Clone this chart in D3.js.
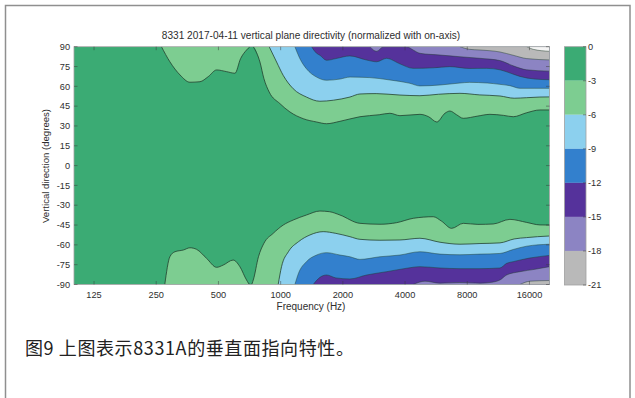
<!DOCTYPE html>
<html><head><meta charset="utf-8">
<script src="https://cdn.jsdelivr.net/npm/d3@7"></script>
<style>body{margin:0;background:#fff}</style>
</head><body><svg id="c" width="635" height="398"></svg>
<script>
// ---- data ----
const freqTicks = [125, 250, 500, 1000, 2000, 4000, 8000, 16000];
const angleTicks = [90, 75, 60, 45, 30, 15, 0, -15, -30, -45, -60, -75, -90];
const levels = [0, -3, -6, -9, -12, -15, -18, -21];
const bandColors = ["#3bab74", "#7dcd91", "#8cd0ee", "#3380cd", "#55329b", "#8c84c3", "#b9b9b9", "#f4f4f4"];

// level -3 boundary (upper / lower half)
const up3F = [265, 291, 326, 364, 407, 446, 490, 548, 601, 640, 684, 710, 722, 737, 794, 830, 880, 992, 1109, 1286, 1493, 1669, 1936, 2418, 3000, 3379, 3778, 4720, 5200, 5700, 6236, 6596, 7100, 7648, 9000, 10294, 12000, 13350, 15500, 17970, 20000];
const up3A = [90, 78.6, 68.6, 63.1, 63.5, 67.3, 72.4, 71.1, 69.9, 81, 87.5, 90, 90, 90, 78.4, 65.8, 55.7, 46.9, 40.6, 35.5, 33, 31.7, 33.5, 37, 38.5, 39.6, 37.8, 38.8, 37, 33, 39.6, 41.3, 38.5, 35.8, 37.5, 38.8, 38, 37, 40, 42.1, 42.1];
const lo3F = [275, 291, 308, 338, 364, 392, 438, 490, 527, 589, 635, 684, 710, 722, 737, 781, 830, 920, 1029, 1150, 1333, 1549, 1725, 1936, 2418, 3023, 3640, 4380, 5475, 6000, 6722, 7648, 9000, 10684, 12870, 15500, 17970, 20000];
const lo3A = [-90, -69, -65.2, -63.9, -62.2, -63.4, -70.2, -77, -75.3, -71.5, -76.5, -86.6, -90, -90, -86.6, -69, -58.8, -51.3, -45, -41.2, -37.4, -34.4, -34.9, -37.4, -43.7, -44.4, -43.2, -39.9, -38.7, -42, -47.5, -43.7, -44.5, -44.2, -40.7, -43, -44.9, -45];
// level -6
const up6F = [880, 956, 1029, 1150, 1333, 1549, 1800, 2164, 2418, 2900, 3778, 4720, 5800, 7372, 9200, 11510, 13500, 15500, 17970, 20000];
const up6A = [90, 78.4, 68.3, 58.2, 51.9, 48.7, 49.5, 51.9, 54.2, 54.5, 53.4, 52.9, 54, 54.7, 53.5, 52.7, 51, 51.4, 51.9, 52];
const lo6F = [973, 1010, 1090, 1220, 1386, 1607, 1850, 2164, 2418, 3023, 3778, 4720, 5900, 7372, 9215, 11510, 13500, 15500, 17500, 20000];
const lo6A = [-90, -76.5, -65.2, -57.6, -52.5, -50, -51.3, -53.8, -55.8, -56.5, -56.3, -55, -58, -59.5, -59, -58.5, -55.5, -54.5, -53.8, -53.3];
// level -9
const up9F = [1172, 1240, 1333, 1493, 1669, 1936, 2164, 2704, 3379, 4222, 4720, 5900, 7372, 8200, 10000, 11510, 12870, 14390, 17000, 20000];
const up9A = [90, 80.9, 73.3, 67, 64.6, 65.5, 67, 66.6, 64.8, 62.3, 60.3, 61, 62.5, 63, 62.5, 61.5, 60.5, 58.5, 58.5, 58.5];
const lo9F = [1172, 1220, 1333, 1493, 1669, 1936, 2164, 2418, 3023, 3778, 4720, 5900, 7372, 9215, 11510, 13350, 15500, 20000];
const lo9A = [-90, -81.5, -72.7, -67.7, -65.9, -67.7, -69, -71, -69, -67.7, -65.2, -67, -67.5, -67, -66.5, -63.5, -61, -59.5];
// level -12
const up12F = [1412, 1493, 1549, 1669, 1850, 2164, 2606, 2913, 3258, 3778, 4380, 5475, 6596, 8200, 9925, 11510, 12405, 14390, 17000, 20000];
const up12A = [90, 85, 83.5, 79.7, 81, 83, 79.9, 78.6, 81.2, 77, 73.6, 74, 74.9, 73.5, 73.6, 72.5, 71, 67.5, 65.5, 65];
const lo12F = [1438, 1549, 1669, 1850, 2164, 2606, 3258, 4070, 4720, 5900, 7372, 9215, 11510, 12405, 13350, 16000, 20000];
const lo12A = [-90, -84.6, -82.8, -85, -85.8, -82.8, -80.3, -77.7, -76.5, -77.5, -78, -78, -77.5, -74, -72.7, -70, -68];
// level -15
const up15F = [2704, 2913, 3150, 4070, 4380, 4720, 5900, 7372, 9215, 11510, 13350, 15500, 20000];
const up15A = [90, 86.5, 90, 90, 87.5, 85, 83.7, 82.4, 81.2, 79.5, 75.5, 72.5, 71.5];
const lo15F = [4380, 5000, 5900, 7372, 9215, 10294, 11510, 12405, 14390, 17000, 20000];
const lo15A = [-90, -87.5, -89, -88.5, -89, -88.5, -86.6, -82.8, -80.3, -78.5, -76.5];
// level -18
const up18F = [7372, 8200, 9215, 11510, 13350, 15500, 20000];
const up18A = [90, 88, 87.5, 86, 83.5, 81, 80];
const lo18F = [14390, 16090, 20000];
const lo18A = [-90, -87.5, -87];
// level -21
const up21F = [15500, 16690, 20000];
const up21A = [90, 88, 86.5];

const titleText = "8331 2017-04-11 vertical plane directivity (normalized with on-axis)";
const xLabel = "Frequency (Hz)";
const yLabel = "Vertical direction (degrees)";
const caption = "图9 上图表示8331A的垂直面指向特性。";

// ---- drawing ----
const svg = d3.select("#c");
const L = 74, R = 549.5, T = 46.7, B = 284.5;
const x = d3.scaleLog().domain([100, 20000]).range([L, R]);
const y = d3.scaleLinear().domain([-90, 90]).range([B, T]);

svg.append("rect").attr("x", 5.5).attr("y", 5.5).attr("width", 624.5).attr("height", 400)
  .attr("fill", "#fff").attr("stroke", "#8f8f8f").attr("stroke-width", 1.5);

svg.append("defs").append("clipPath").attr("id", "clip")
  .append("rect").attr("x", L).attr("y", T).attr("width", R - L).attr("height", B - T);

const g = svg.append("g").attr("clip-path", "url(#clip)");
g.append("rect").attr("x", L).attr("y", T).attr("width", R - L).attr("height", B - T).attr("fill", bandColors[0]);

const bounds = [
  {k: 1, side: 1, f: up3F, a: up3A}, {k: 1, side: -1, f: lo3F, a: lo3A},
  {k: 2, side: 1, f: up6F, a: up6A}, {k: 2, side: -1, f: lo6F, a: lo6A},
  {k: 3, side: 1, f: up9F, a: up9A}, {k: 3, side: -1, f: lo9F, a: lo9A},
  {k: 4, side: 1, f: up12F, a: up12A}, {k: 4, side: -1, f: lo12F, a: lo12A},
  {k: 5, side: 1, f: up15F, a: up15A}, {k: 5, side: -1, f: lo15F, a: lo15A},
  {k: 6, side: 1, f: up18F, a: up18A}, {k: 6, side: -1, f: lo18F, a: lo18A},
  {k: 7, side: 1, f: up21F, a: up21A}
];
const curve = d3.curveMonotoneX;
bounds.forEach(b => {
  const pts = b.f.map((f, i) => [f, b.a[i]]);
  const area = d3.area().x(d => x(d[0])).y0(y(90 * b.side)).y1(d => y(d[1])).curve(curve);
  g.append("path").attr("d", area(pts)).attr("fill", bandColors[b.k]);
});
bounds.forEach(b => {
  const pts = b.f.map((f, i) => [f, b.a[i]]);
  const edge = v => Math.abs(v) >= 89.95;
  const def = (d, i) => !edge(pts[i][1]) || (i > 0 && !edge(pts[i - 1][1])) || (i < pts.length - 1 && !edge(pts[i + 1][1]));
  const line = d3.line().x(d => x(d[0])).y(d => y(d[1])).defined(def).curve(curve);
  g.append("path").attr("d", line(pts)).attr("fill", "none")
    .attr("stroke", "#1f3b2b").attr("stroke-opacity", b.k <= 2 ? 0.85 : 0.5).attr("stroke-width", 0.9);
});

// frame & ticks
svg.append("rect").attr("x", L).attr("y", T).attr("width", R - L).attr("height", B - T)
  .attr("fill", "none").attr("stroke", "#a0a0a0").attr("stroke-width", 0.8);
const tk = svg.append("g").attr("stroke", "#3a3a3a").attr("stroke-width", 0.8).attr("opacity", 0.6);
freqTicks.forEach(f => {
  tk.append("line").attr("x1", x(f)).attr("x2", x(f)).attr("y1", B).attr("y2", B - 3.5);
  tk.append("line").attr("x1", x(f)).attr("x2", x(f)).attr("y1", T).attr("y2", T + 3.5);
});
angleTicks.forEach(a => {
  tk.append("line").attr("x1", L).attr("x2", L + 3.5).attr("y1", y(a)).attr("y2", y(a));
  tk.append("line").attr("x1", R).attr("x2", R - 3.5).attr("y1", y(a)).attr("y2", y(a));
});

const font = "'Liberation Sans', Arial, sans-serif";
const txt = svg.append("g").attr("font-family", font).attr("fill", "#2e2e2e");
freqTicks.forEach(f => {
  txt.append("text").attr("x", x(f)).attr("y", 298).attr("text-anchor", "middle")
    .attr("font-size", 9.2).text(f);
});
angleTicks.forEach(a => {
  txt.append("text").attr("x", 70).attr("y", y(a) + 3.2).attr("text-anchor", "end")
    .attr("font-size", 9.2).text(String(a));
});
txt.append("text").attr("x", 311).attr("y", 309.5).attr("text-anchor", "middle")
  .attr("font-size", 10).text(xLabel);
txt.append("text").attr("transform", "translate(48.5,166) rotate(-90)").attr("text-anchor", "middle")
  .attr("font-size", 9.6).text(yLabel);
txt.append("text").attr("x", 311).attr("y", 38.5).attr("text-anchor", "middle")
  .attr("font-size", 10.1).text(titleText);

// colorbar
const cb = d3.scaleLinear().domain([-21, 0]).range([285, 46.7]);
const cbX = 564.5, cbW = 21.5;
for (let i = 0; i < 7; i++) {
  svg.append("rect").attr("x", cbX).attr("y", cb(levels[i])).attr("width", cbW)
    .attr("height", cb(levels[i + 1]) - cb(levels[i])).attr("fill", bandColors[i]);
}
svg.append("rect").attr("x", cbX).attr("y", cb(0)).attr("width", cbW).attr("height", cb(-21) - cb(0))
  .attr("fill", "none").attr("stroke", "#a0a0a0").attr("stroke-width", 0.8);
levels.forEach(v => {
  svg.append("line").attr("x1", cbX + cbW).attr("x2", cbX + cbW - 3).attr("y1", cb(v)).attr("y2", cb(v))
    .attr("stroke", "#3a3a3a").attr("stroke-width", 0.8).attr("opacity", 0.6);
  txt.append("text").attr("x", 588).attr("y", cb(v) + 3.2).attr("font-size", 9.2).text(String(v));
});

svg.append("text").attr("x", 25).attr("y", 355).attr("font-family", "'Noto Sans CJK SC', sans-serif")
  .attr("font-size", 18).attr("letter-spacing", 0.6).attr("fill", "#222").text(caption);
</script></body></html>
